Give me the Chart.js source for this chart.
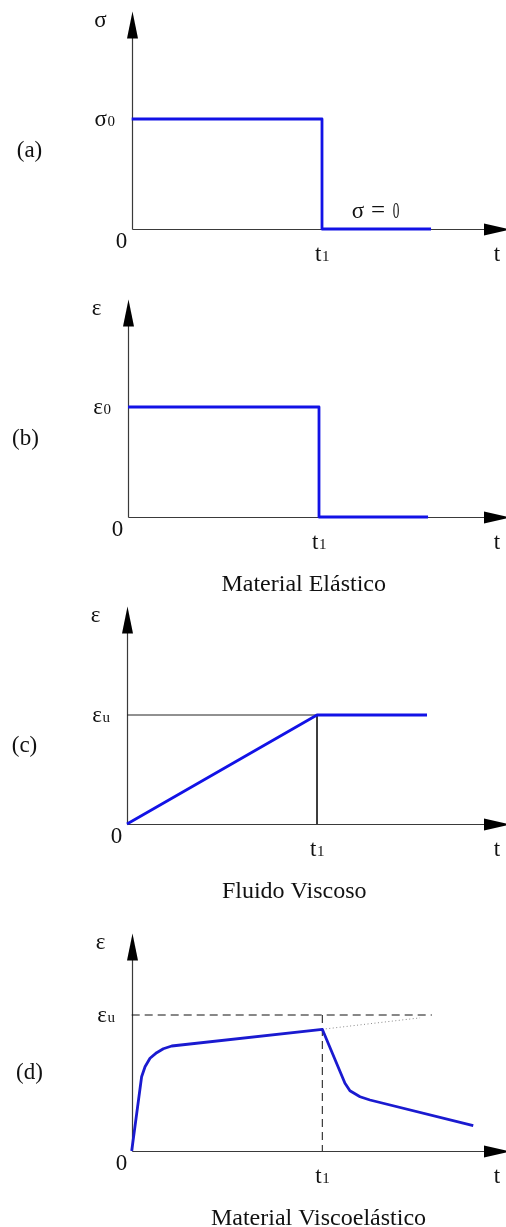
<!DOCTYPE html>
<html>
<head>
<meta charset="utf-8">
<script src="https://cdn.jsdelivr.net/npm/chart.js@4.4.1/dist/chart.umd.min.js"></script>
<style>
    html, body { margin: 0; padding: 0; background: #fff; }
    #wrap { position: relative; width: 506px; height: 1227px; overflow: hidden; }
    canvas { position: absolute; left: 0; }
</style>
</head>
<body>
<div id="wrap">
    <canvas id="panelA" width="506" height="280" style="top:0px"></canvas>
    <canvas id="panelB" width="506" height="320" style="top:280px"></canvas>
    <canvas id="panelC" width="506" height="300" style="top:600px"></canvas>
    <canvas id="panelD" width="506" height="327" style="top:900px"></canvas>
</div>
<script>
// time is in units of t1, the response in units of sigma0 / eps0 / epsU

// (a) applied stress
const stressT = [0, 1, 1, 1.573];
const stressVal = [1, 1, 0, 0];

// (b) elastic material
const elasticT = [0, 1, 1, 1.571];
const elasticVal = [1, 1, 0, 0];

// (c) viscous fluid
const viscousT = [0, 1, 1.579];
const viscousVal = [0, 1, 1];
const viscousGuideT = [0, 1, 1];
const viscousGuideVal = [1, 1, 0];

// (d) viscoelastic material
const viscoT = [0, 0.052, 0.070, 0.096, 0.131, 0.166, 0.210, 1, 1.119, 1.145, 1.198, 1.250, 1.792];
const viscoVal = [0, 0.546, 0.620, 0.682, 0.723, 0.752, 0.772, 0.895, 0.498, 0.443, 0.399, 0.375, 0.186];
const viscoTrendT = [1, 1.513];
const viscoTrendVal = [0.895, 0.979];
const limitT = [0, 1.575];
const limitVal = [1, 1];
const unloadT = [1, 1];
const unloadVal = [1, 0];

// labels
const axisNames = ['σ', 'ε', 'ε', 'ε'];
const levelLabels = [['σ', '0'], ['ε', '0'], ['ε', 'u'], ['ε', 'u']];
const panelTags = ['(a)', '(b)', '(c)', '(d)'];
const captions = ['', 'Material Elástico', 'Fluido Viscoso', 'Material Viscoelástico'];
const captionAt = [0, 0.92, 0.88, 0.98];
const timeTick = ['t', '1'];

const W = 506;
const SERIF = '"Liberation Serif", "Times New Roman", serif';
const BLUE = '#1212e6';

const pts = (xs, ys) => xs.map((v, i) => ({ x: v, y: ys[i] }));

function drawSub(ctx, main, sub, x, y, align) {
    ctx.font = '23px ' + SERIF;
    const w1 = ctx.measureText(main).width;
    ctx.font = '15px ' + SERIF;
    const w2 = sub ? ctx.measureText(sub).width : 0;
    let left = x;
    if (align === 'center') left = x - (w1 + w2) / 2;
    if (align === 'right') left = x - (w1 + w2);
    ctx.textAlign = 'left';
    ctx.textBaseline = 'alphabetic';
    ctx.font = '23px ' + SERIF;
    ctx.fillText(main, left, y);
    if (sub) {
        ctx.font = '15px ' + SERIF;
        ctx.fillText(sub, left + w1 + 0.5, y);
    }
}

// Axes with arrow heads and the text around them
const axesPlugin = {
    id: 'axes',
    beforeDatasetsDraw(chart) {
        const { ctx, scales: { x, y } } = chart;
        const x0 = Math.round(x.getPixelForValue(0)) + 0.5;
        const y0 = Math.round(y.getPixelForValue(0)) + 0.5;
        ctx.save();
        ctx.strokeStyle = '#3a3a3a';
        ctx.lineWidth = 1.2;
        ctx.beginPath();
        ctx.moveTo(x0, y0);
        ctx.lineTo(x0, y0 - 205);
        ctx.moveTo(x0, y0);
        ctx.lineTo(490, y0);
        ctx.stroke();
        ctx.restore();
    },
    afterDraw(chart) {
        const { ctx, scales: { x, y } } = chart;
        const o = chart.options.plugins.axes;
        const x0 = Math.round(x.getPixelForValue(0)) + 0.5;
        const y0 = Math.round(y.getPixelForValue(0)) + 0.5;
        const tip = y0 - 218;

        ctx.save();
        ctx.fillStyle = '#000';
        // y arrow
        ctx.beginPath();
        ctx.moveTo(x0, tip);
        ctx.lineTo(x0 + 5.5, tip + 27);
        ctx.lineTo(x0 - 5.5, tip + 27);
        ctx.closePath();
        ctx.fill();
        // x arrow
        ctx.beginPath();
        ctx.moveTo(511, y0);
        ctx.lineTo(484, y0 - 6);
        ctx.lineTo(484, y0 + 6);
        ctx.closePath();
        ctx.fill();

        ctx.fillStyle = '#111';
        drawSub(ctx, o.axisName, '', x0 - 32, tip + 15, 'center');
        drawSub(ctx, o.level[0], o.level[1], x0 - 18, y.getPixelForValue(1) + 7, 'right');
        drawSub(ctx, '0', '', x0 - 11, y0 + 18, 'center');
        drawSub(ctx, timeTick[0], timeTick[1], x.getPixelForValue(1), y0 + 31, 'center');
        drawSub(ctx, 't', '', W - 9, y0 + 31, 'center');

        ctx.font = '23px ' + SERIF;
        ctx.textAlign = 'center';
        ctx.fillText(o.tag, x0 - 103, y0 - 73);
        if (o.caption) {
            ctx.font = '24px ' + SERIF;
            ctx.fillText(o.caption, x.getPixelForValue(o.captionAt), y0 + 73);
        }
        if (o.zeroNote) {
            // "σ = 0" note on the unloaded branch, with a tall narrow zero
            const cx = x.getPixelForValue(o.zeroNote);
            const by = y0 - 12;
            ctx.textAlign = 'center';
            ctx.font = '23px ' + SERIF;
            ctx.fillText('σ', cx - 18, by);
            ctx.font = '25px ' + SERIF;
            ctx.fillText('=', cx + 2, by);
            ctx.save();
            ctx.translate(cx + 20, by);
            ctx.scale(0.7, 1.2);
            ctx.font = '19px ' + SERIF;
            ctx.fillText('0', 0, 0);
            ctx.restore();
        }
        ctx.restore();
    }
};

function line(data, color, width, dash) {
    return {
        data: data,
        showLine: true,
        borderColor: color,
        borderWidth: width,
        borderDash: dash || [],
        pointRadius: 0,
        tension: 0,
        fill: false,
        borderJoinStyle: 'round'
    };
}

function makePanel(id, geo, datasets, labels) {
    new Chart(document.getElementById(id), {
        type: 'scatter',
        data: { datasets: datasets },
        options: {
            responsive: false,
            animation: false,
            devicePixelRatio: 1,
            layout: { padding: 0 },
            scales: {
                x: { type: 'linear', display: false, min: -geo.ox / geo.ux, max: (W - geo.ox) / geo.ux },
                y: { type: 'linear', display: false, min: (geo.oy - geo.h) / geo.uy, max: geo.oy / geo.uy }
            },
            plugins: {
                legend: { display: false },
                tooltip: { enabled: false },
                axes: labels
            }
        },
        plugins: [axesPlugin]
    });
}

makePanel('panelA', { h: 280, ox: 131.7, oy: 229, ux: 190.3, uy: 110 },
    [line(pts(stressT, stressVal), BLUE, 2.8)],
    { axisName: axisNames[0], level: levelLabels[0], tag: panelTags[0], caption: captions[0], captionAt: captionAt[0], zeroNote: 1.284 });

makePanel('panelB', { h: 320, ox: 128, oy: 237, ux: 191, uy: 110 },
    [line(pts(elasticT, elasticVal), BLUE, 2.8)],
    { axisName: axisNames[1], level: levelLabels[1], tag: panelTags[1], caption: captions[1], captionAt: captionAt[1] });

makePanel('panelC', { h: 300, ox: 127, oy: 224, ux: 190, uy: 109 },
    [line(pts(viscousT, viscousVal), BLUE, 2.8),
     line(pts(viscousGuideT, viscousGuideVal), '#222', 1)],
    { axisName: axisNames[2], level: levelLabels[2], tag: panelTags[2], caption: captions[2], captionAt: captionAt[2] });

makePanel('panelD', { h: 327, ox: 131.7, oy: 251, ux: 190.6, uy: 136 },
    [line(pts(viscoT, viscoVal), '#1a1ad0', 2.8),
     line(pts(viscoTrendT, viscoTrendVal), '#888', 1, [1, 2.5]),
     line(pts(limitT, limitVal), '#111', 1, [8, 5]),
     line(pts(unloadT, unloadVal), '#111', 1, [8, 5])],
    { axisName: axisNames[3], level: levelLabels[3], tag: panelTags[3], caption: captions[3], captionAt: captionAt[3] });
</script>
</body>
</html>
